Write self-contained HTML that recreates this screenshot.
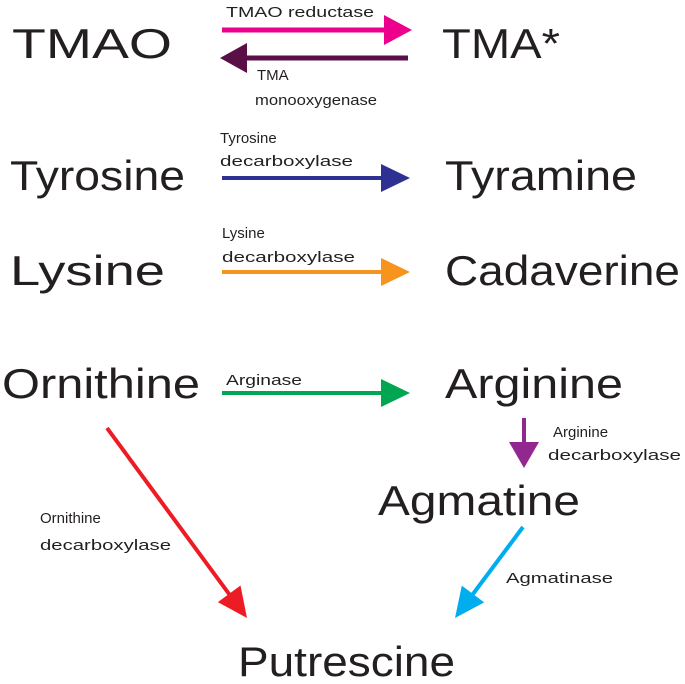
<!DOCTYPE html>
<html><head><meta charset="utf-8"><style>
html,body{margin:0;padding:0;background:#fff;}
svg{display:block;}
.b{font-family:"Liberation Sans",sans-serif;font-size:42px;fill:#231f20;}
.s{font-family:"Liberation Sans",sans-serif;font-size:15px;fill:#231f20;}
</style></head><body>
<svg width="685" height="684" viewBox="0 0 685 684" xmlns="http://www.w3.org/2000/svg">
<text class="b" x="12" y="58" textLength="160" lengthAdjust="spacingAndGlyphs">TMAO</text>
<text class="b" x="442" y="58" textLength="118" lengthAdjust="spacingAndGlyphs">TMA*</text>
<text class="b" x="10" y="190" textLength="175" lengthAdjust="spacingAndGlyphs">Tyrosine</text>
<text class="b" x="445" y="190" textLength="192" lengthAdjust="spacingAndGlyphs">Tyramine</text>
<text class="b" x="10" y="285" textLength="155" lengthAdjust="spacingAndGlyphs">Lysine</text>
<text class="b" x="445" y="285" textLength="235" lengthAdjust="spacingAndGlyphs">Cadaverine</text>
<text class="b" x="2" y="398" textLength="198" lengthAdjust="spacingAndGlyphs">Ornithine</text>
<text class="b" x="445" y="398" textLength="178" lengthAdjust="spacingAndGlyphs">Arginine</text>
<text class="b" x="378" y="515" textLength="202" lengthAdjust="spacingAndGlyphs">Agmatine</text>
<text class="b" x="238" y="676" textLength="217" lengthAdjust="spacingAndGlyphs">Putrescine</text>

<text class="s" x="226" y="17" textLength="148" lengthAdjust="spacingAndGlyphs">TMAO reductase</text>
<text class="s" x="257" y="80">TMA</text>
<text class="s" x="255" y="105" textLength="122" lengthAdjust="spacingAndGlyphs">monooxygenase</text>
<text class="s" x="220" y="143">Tyrosine</text>
<text class="s" x="220" y="166" textLength="133" lengthAdjust="spacingAndGlyphs">decarboxylase</text>
<text class="s" x="222" y="238">Lysine</text>
<text class="s" x="222" y="262" textLength="133" lengthAdjust="spacingAndGlyphs">decarboxylase</text>
<text class="s" x="226" y="385" textLength="76" lengthAdjust="spacingAndGlyphs">Arginase</text>
<text class="s" x="553" y="437">Arginine</text>
<text class="s" x="548" y="460" textLength="133" lengthAdjust="spacingAndGlyphs">decarboxylase</text>
<text class="s" x="40" y="523">Ornithine</text>
<text class="s" x="40" y="550" textLength="131" lengthAdjust="spacingAndGlyphs">decarboxylase</text>
<text class="s" x="506" y="583" textLength="107" lengthAdjust="spacingAndGlyphs">Agmatinase</text>

<!-- pink -->
<line x1="222" y1="30" x2="388" y2="30" stroke="#ec008c" stroke-width="5"/>
<polygon points="384,15 412,30 384,45" fill="#ec008c"/>
<!-- dark purple -->
<line x1="408" y1="58" x2="242" y2="58" stroke="#5b0f47" stroke-width="5"/>
<polygon points="247,43 220,58 247,73" fill="#5b0f47"/>
<!-- navy -->
<line x1="222" y1="178" x2="385" y2="178" stroke="#2e3192" stroke-width="4"/>
<polygon points="381,164 410,178 381,192" fill="#2e3192"/>
<!-- orange -->
<line x1="222" y1="272" x2="385" y2="272" stroke="#f7941d" stroke-width="4"/>
<polygon points="381,258 410,272 381,286" fill="#f7941d"/>
<!-- green -->
<line x1="222" y1="393" x2="385" y2="393" stroke="#00a651" stroke-width="4"/>
<polygon points="381,379 410,393 381,407" fill="#00a651"/>
<!-- purple vertical -->
<line x1="524" y1="418" x2="524" y2="446" stroke="#92278f" stroke-width="4"/>
<polygon points="509,442 539,442 524,468" fill="#92278f"/>
<!-- red -->
<line x1="107" y1="428" x2="232" y2="598" stroke="#ed1c24" stroke-width="4"/>
<polygon points="217.9,602.1 240.5,585.5 247,618" fill="#ed1c24"/>
<!-- cyan -->
<line x1="523" y1="527" x2="470" y2="598" stroke="#00aeef" stroke-width="4"/>
<polygon points="484.2,602.4 461.8,585.6 455,618" fill="#00aeef"/>
</svg>
</body></html>
